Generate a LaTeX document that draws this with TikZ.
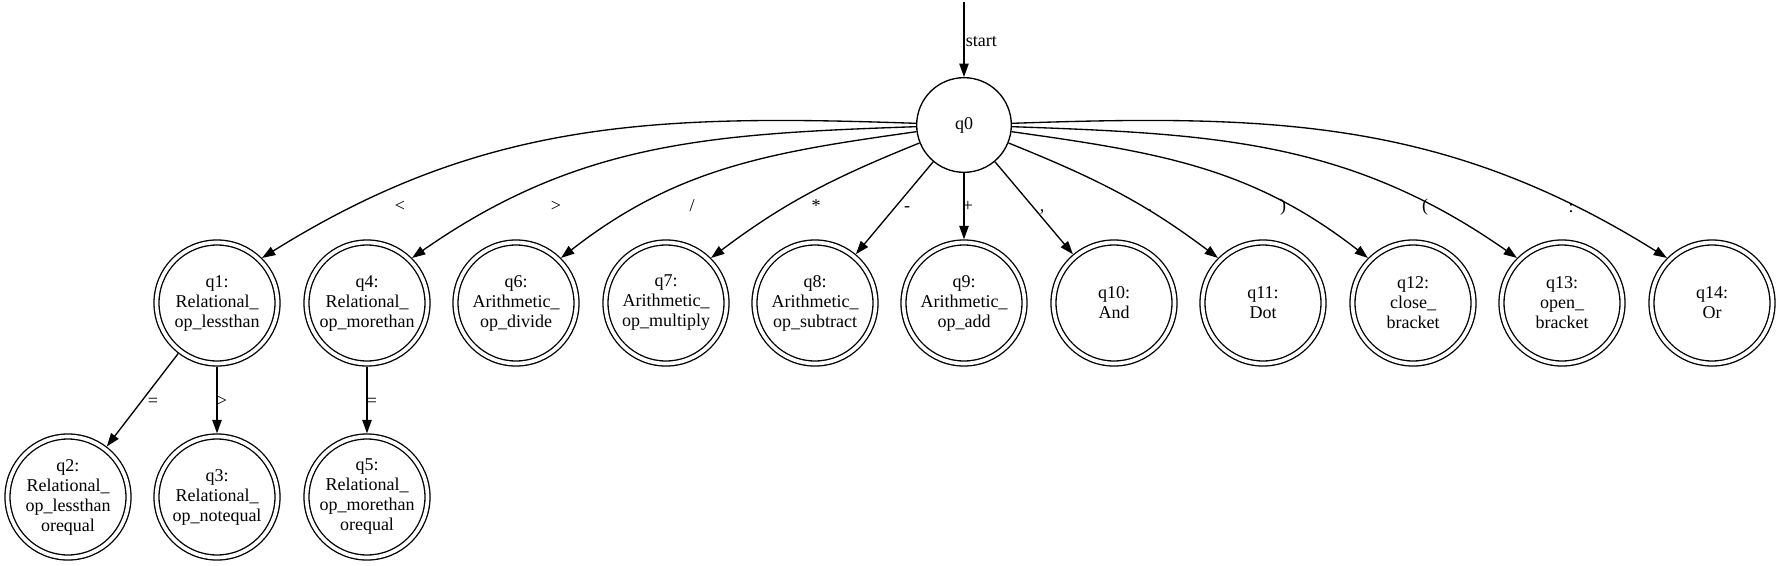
\documentclass[tikz,border=0pt]{standalone}
\usepackage{fontspec}
\setmainfont{Liberation Serif}
\usetikzlibrary{arrows.meta}
\begin{document}
\begin{tikzpicture}[x=0.75pt,y=0.75pt,
  every node/.style={font=\fontsize{13.5}{15}\selectfont},
  state/.style={circle,draw,line width=1pt,minimum size=71pt,inner sep=0pt},
  accept/.style={circle,draw,line width=1pt,double,double distance=2.75pt,minimum size=90.75pt,inner sep=0pt,outer sep=2.4pt,align=center},
  edge/.style={line width=1pt,-{Triangle[length=10pt,width=7pt]}},
  lbl/.style={anchor=base,inner sep=0pt}]
\useasboundingbox (0,0) rectangle (1779,-565);
% start
\node[state] (q0) at (964,-125) {q0};
\coordinate (s) at (964,-2);
\draw[edge] (s) -- (q0);
\node[anchor=west,inner sep=0pt] (startlbl) at (965.5,-42) {start};
% top row
\node[accept] (q1) at (217,-303) {q1:\\Relational\_\\op\_lessthan};
\node[accept] (q4) at (367,-303) {q4:\\Relational\_\\op\_morethan};
\node[accept] (q6) at (516,-303) {q6:\\Arithmetic\_\\op\_divide};
\node[accept] (q7) at (666,-303) {q7:\\Arithmetic\_\\op\_multiply};
\node[accept] (q8) at (815,-303) {q8:\\Arithmetic\_\\op\_subtract};
\node[accept] (q9) at (964,-303) {q9:\\Arithmetic\_\\op\_add};
\node[accept] (q10) at (1114,-303) {q10:\\And};
\node[accept] (q11) at (1263,-303) {q11:\\Dot};
\node[accept] (q12) at (1413,-303) {q12:\\close\_\\bracket};
\node[accept] (q13) at (1562,-303) {q13:\\open\_\\bracket};
\node[accept] (q14) at (1712,-303) {q14:\\Or};
% bottom row
\node[accept] (q2) at (68,-497) {q2:\\Relational\_\\op\_lessthan\\orequal};
\node[accept] (q3) at (217,-497) {q3:\\Relational\_\\op\_notequal};
\node[accept] (q5) at (367,-497) {q5:\\Relational\_\\op\_morethan\\orequal};
% edges from q0
\draw[edge] (q0.178) to[out=178,in=32] (q1.45);
\draw[edge] (q0.182) to[out=182,in=35] (q4.45);
\draw[edge] (q0.188) to[out=188,in=38] (q6.45);
\draw[edge] (q0.202) to[out=202,in=37] (q7.45);
\draw[edge] (q0) -- (q8);
\draw[edge] (q0) -- (q9);
\draw[edge] (q0) -- (q10);
\draw[edge] (q0.338) to[out=338,in=143] (q11.135);
\draw[edge] (q0.352) to[out=352,in=142] (q12.135);
\draw[edge] (q0.358) to[out=358,in=145] (q13.135);
\draw[edge] (q0.2) to[out=2,in=148] (q14.135);
% lower edges
\draw[edge] (q1) -- (q2);
\draw[edge] (q1) -- (q3);
\draw[edge] (q4) -- (q5);
% labels
\node[lbl] (l1) at (400,-211.5) {<};
\node[lbl] (l4) at (556,-211.5) {>};
\node[lbl] (l6) at (692,-211.5) {/};
\node[lbl] (l7) at (816,-211.5) {*};
\node[lbl] (l8) at (907,-211.5) {-};
\node[lbl] (l9) at (968,-211.5) {+};
\node[lbl] (l10) at (1042,-211.5) {,};
\node[lbl] (l11) at (1150,-211.5) {.};
\node[lbl] (l12) at (1283,-211.5) {)};
\node[lbl] (l13) at (1425,-211.5) {(};
\node[lbl] (l14) at (1571,-212.5) {:};
\node[lbl] (l2) at (153,-406) {=};
\node[lbl] (l3) at (222,-406) {>};
\node[lbl] (l5) at (372,-406) {=};
\end{tikzpicture}
\end{document}
